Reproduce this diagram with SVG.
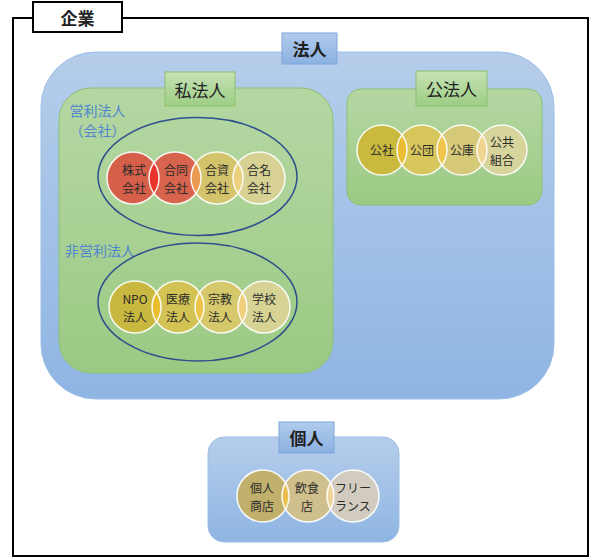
<svg xmlns="http://www.w3.org/2000/svg" width="600" height="559" viewBox="0 0 600 559">
<defs>
<linearGradient id="gBlue" x1="0" y1="0" x2="0" y2="1"><stop offset="0" stop-color="#b5cdea"/><stop offset="1" stop-color="#8fb5e3"/></linearGradient>
<linearGradient id="gBlueLbl" x1="0" y1="0" x2="0" y2="1"><stop offset="0" stop-color="#b0cbec"/><stop offset="1" stop-color="#8bb1e1"/></linearGradient>
<linearGradient id="gGreen" x1="0" y1="0" x2="0" y2="1"><stop offset="0" stop-color="#b5d7a3"/><stop offset="1" stop-color="#9bca84"/></linearGradient>
<linearGradient id="gGreenLbl" x1="0" y1="0" x2="0" y2="1"><stop offset="0" stop-color="#c6e2b4"/><stop offset="1" stop-color="#9dcd85"/></linearGradient>
<clipPath id="c1a"><circle cx="133" cy="178" r="26"/></clipPath>
<clipPath id="c1b"><circle cx="175" cy="178" r="26"/></clipPath>
<clipPath id="c1c"><circle cx="217" cy="178" r="26"/></clipPath>
<clipPath id="c2a"><circle cx="135" cy="307" r="26"/></clipPath>
<clipPath id="c2b"><circle cx="178" cy="307" r="26"/></clipPath>
<clipPath id="c2c"><circle cx="221" cy="307" r="26"/></clipPath>
<clipPath id="c3a"><circle cx="382" cy="150" r="25"/></clipPath>
<clipPath id="c3b"><circle cx="422" cy="150" r="25"/></clipPath>
<clipPath id="c3c"><circle cx="462" cy="150" r="25"/></clipPath>
<clipPath id="c4a"><circle cx="263" cy="496" r="26"/></clipPath>
<clipPath id="c4b"><circle cx="308" cy="496" r="26"/></clipPath>
</defs>
<style>
.frame{fill:none;stroke:#000;stroke-width:2}
.lblW{fill:#fff;stroke:#000;stroke-width:2}
.blue{fill:url(#gBlue);stroke:#9cbfe8;stroke-width:1}
.green{fill:url(#gGreen);stroke:#8dc172;stroke-width:1}
.lblB{fill:url(#gBlueLbl);stroke:#7ea6da;stroke-width:1}
.lblG{fill:url(#gGreenLbl);stroke:#8cc06f;stroke-width:1}
.ell{fill:none;stroke:#2e4f8e;stroke-width:1.5}
.ring{fill:none;stroke:#fff;stroke-width:1.5;stroke-opacity:0.9}
text,tspan{font-family:"Noto Sans CJK JP","Noto Sans",sans-serif;dominant-baseline:central;text-anchor:middle}
.t{font-size:12px;fill:#2b2b2b}
.h{font-size:17px;fill:#222}
.s{font-size:14px;fill:#4f86cf}
</style>

<g id="kigyo">
<rect class="frame" x="13" y="18" width="575" height="538"/>
<rect class="lblW" x="33" y="2" width="89" height="30"/>
<text class="h" x="77.5" y="17" font-weight="bold">企業</text>
</g>

<g id="hojin">
<rect class="blue" x="41" y="52" width="513" height="347" rx="55" ry="55"/>
<rect class="lblB" x="282" y="33" width="55" height="31"/>
<text class="h" x="309.5" y="48.5" font-weight="bold">法人</text>
</g>

<g id="shihojin">
<rect class="green" x="59" y="88" width="274" height="285" rx="32" ry="32"/>
<rect class="lblG" x="165" y="72" width="70" height="34"/>
<text class="h" x="200" y="89">私法人</text>
</g>

<g id="eiri">
<text class="s" x="97.5" y="109.5">営利法人</text>
<text class="s" x="97.5" y="130">（会社）</text>
<ellipse class="ell" cx="197.5" cy="176.5" rx="99.5" ry="59"/>
<circle cx="133" cy="178" r="26" fill="#d65f4a"/>
<circle cx="175" cy="178" r="26" fill="#d8644d"/>
<circle cx="217" cy="178" r="26" fill="#d3c46c"/>
<circle cx="259" cy="178" r="26" fill="#d7d294"/>
<circle cx="175" cy="178" r="26" fill="#e8322a" clip-path="url(#c1a)"/>
<circle cx="217" cy="178" r="26" fill="#eb9a52" clip-path="url(#c1b)"/>
<circle cx="259" cy="178" r="26" fill="#edd07e" clip-path="url(#c1c)"/>
<circle class="ring" cx="133" cy="178" r="26"/>
<circle class="ring" cx="175" cy="178" r="26"/>
<circle class="ring" cx="217" cy="178" r="26"/>
<circle class="ring" cx="259" cy="178" r="26"/>
<text class="t"><tspan x="134" y="169.25">株式</tspan><tspan x="134" y="186.75">会社</tspan></text>
<text class="t"><tspan x="176" y="169.25">合同</tspan><tspan x="176" y="186.75">会社</tspan></text>
<text class="t"><tspan x="217" y="169.25">合資</tspan><tspan x="217" y="186.75">会社</tspan></text>
<text class="t"><tspan x="259" y="169.25">合名</tspan><tspan x="259" y="186.75">会社</tspan></text>
</g>

<g id="hieiri">
<text class="s" x="100" y="250">非営利法人</text>
<ellipse class="ell" cx="197.5" cy="302" rx="99.5" ry="59"/>
<circle cx="135" cy="307" r="26" fill="#c9b83f"/>
<circle cx="178" cy="307" r="26" fill="#d3c354"/>
<circle cx="221" cy="307" r="26" fill="#d6c96c"/>
<circle cx="264" cy="307" r="26" fill="#d7d395"/>
<circle cx="178" cy="307" r="26" fill="#e9bf2f" clip-path="url(#c2a)"/>
<circle cx="221" cy="307" r="26" fill="#edc44b" clip-path="url(#c2b)"/>
<circle cx="264" cy="307" r="26" fill="#efd17d" clip-path="url(#c2c)"/>
<circle class="ring" cx="135" cy="307" r="26"/>
<circle class="ring" cx="178" cy="307" r="26"/>
<circle class="ring" cx="221" cy="307" r="26"/>
<circle class="ring" cx="264" cy="307" r="26"/>
<text class="t"><tspan x="135" y="298.25">NPO</tspan><tspan x="135" y="315.75">法人</tspan></text>
<text class="t"><tspan x="178" y="298.25">医療</tspan><tspan x="178" y="315.75">法人</tspan></text>
<text class="t"><tspan x="220" y="298.25">宗教</tspan><tspan x="220" y="315.75">法人</tspan></text>
<text class="t"><tspan x="264" y="298.25">学校</tspan><tspan x="264" y="315.75">法人</tspan></text>
</g>

<g id="kohojin">
<rect class="green" x="347" y="89" width="195" height="116" rx="14" ry="14"/>
<rect class="lblG" x="416" y="71" width="71" height="35"/>
<text class="h" x="451.5" y="88.5">公法人</text>
<circle cx="382" cy="150" r="25" fill="#c9b93f"/>
<circle cx="422" cy="150" r="25" fill="#d6c65b"/>
<circle cx="462" cy="150" r="25" fill="#d6c979"/>
<circle cx="502" cy="150" r="25" fill="#d7d49c"/>
<circle cx="422" cy="150" r="25" fill="#e9bd34" clip-path="url(#c3a)"/>
<circle cx="462" cy="150" r="25" fill="#efc54b" clip-path="url(#c3b)"/>
<circle cx="502" cy="150" r="25" fill="#f0d592" clip-path="url(#c3c)"/>
<circle class="ring" cx="382" cy="150" r="25"/>
<circle class="ring" cx="422" cy="150" r="25"/>
<circle class="ring" cx="462" cy="150" r="25"/>
<circle class="ring" cx="502" cy="150" r="25"/>
<text class="t" x="382" y="149">公社</text>
<text class="t" x="422" y="149">公団</text>
<text class="t" x="462" y="149">公庫</text>
<text class="t"><tspan x="502" y="141">公共</tspan><tspan x="502" y="158.5">組合</tspan></text>
</g>

<g id="kojin">
<rect class="blue" x="208" y="437" width="191" height="105" rx="16" ry="16"/>
<rect class="lblB" x="279" y="422" width="55" height="31"/>
<text class="h" x="306.5" y="437.5" font-weight="bold">個人</text>
<circle cx="263" cy="496" r="26" fill="#c1b06b"/>
<circle cx="308" cy="496" r="26" fill="#cfbf8c"/>
<circle cx="353" cy="496" r="26" fill="#d1ccbf"/>
<circle cx="308" cy="496" r="26" fill="#e8be4f" clip-path="url(#c4a)"/>
<circle cx="353" cy="496" r="26" fill="#efd59b" clip-path="url(#c4b)"/>
<circle class="ring" cx="263" cy="496" r="26"/>
<circle class="ring" cx="308" cy="496" r="26"/>
<circle class="ring" cx="353" cy="496" r="26"/>
<text class="t"><tspan x="262" y="487.25">個人</tspan><tspan x="262" y="504.75">商店</tspan></text>
<text class="t"><tspan x="307" y="487.25">飲食</tspan><tspan x="307" y="504.75">店</tspan></text>
<text class="t"><tspan x="353" y="487.25">フリー</tspan><tspan x="353" y="504.75">ランス</tspan></text>
</g>
<g id="connectors"/>
</svg>
